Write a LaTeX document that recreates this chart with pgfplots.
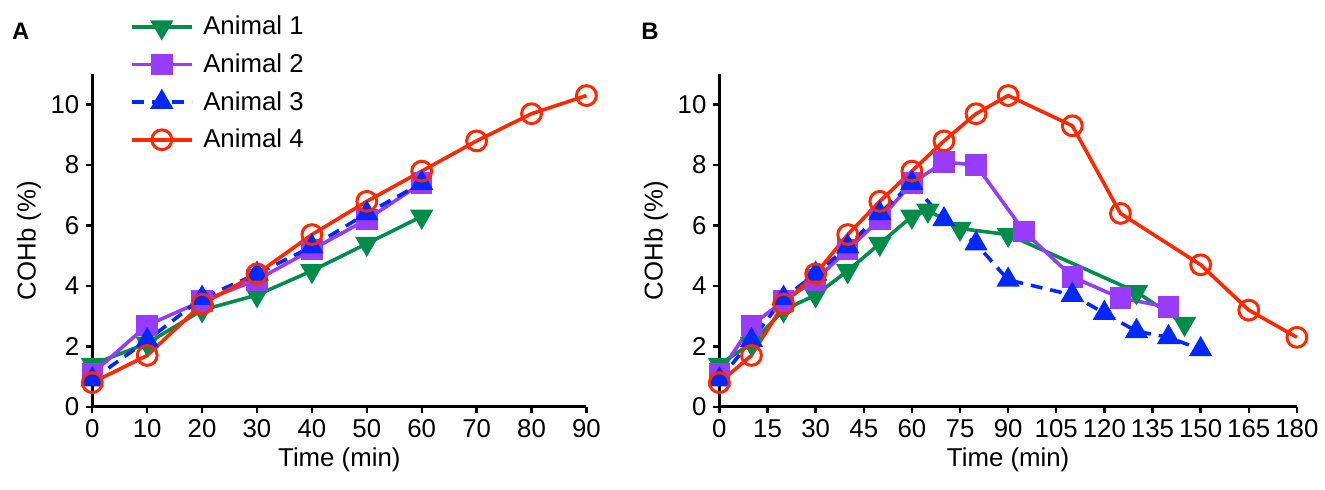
\documentclass[border=0pt]{standalone}
\usepackage{pgfplots}
\pgfplotsset{compat=1.18}
\usepackage{fontspec}
\setmainfont{Liberation Sans}
\definecolor{cg}{RGB}{0,140,75}
\definecolor{cp}{RGB}{150,60,250}
\definecolor{cb}{RGB}{0,40,255}
\definecolor{cr}{RGB}{255,40,0}
\pgfplotsset{
  base/.style={scale only axis, height=167.5pt, axis lines*=left, ymin=0, ymax=11,
    ytick={0,2,...,10}, tick align=outside, major tick length=3pt,
    every tick/.style={black, line width=1.2pt}, axis line style={line width=1.4pt},
    tick label style={font=\fontsize{13}{15}\selectfont},
    label style={font=\fontsize{13}{15}\selectfont},
    /pgf/number format/assume math mode=true, clip=false,
    ylabel={COHb (\%)}, xlabel={Time (min)}, xlabel style={yshift=2pt}, ylabel style={yshift=-2pt}},
  a1/.style={cg, line width=1.8pt, mark=triangle*, mark options={rotate=180, solid}, mark size=5pt},
  a2/.style={cp, line width=1.8pt, mark=square*, mark options={solid}, mark size=4.5pt},
  a3/.style={cb, line width=1.8pt, dash pattern=on 6pt off 4pt, mark=triangle*, mark options={solid}, mark size=5pt},
  a4/.style={cr, line width=1.8pt, mark=o, mark options={solid, fill=white, line width=1.5pt}, mark size=5pt},
}
\begin{document}
\begin{tikzpicture}
\begin{axis}[base, name=A, width=249pt, xmin=0, xmax=90, xtick={0,10,...,90},
  legend style={draw=none, fill=none, at={(0.064,1.2)}, anchor=north west, row sep=4pt, font=\fontsize{13}{15}\selectfont,
    nodes={inner xsep=5pt}},
  legend cell align=left,
  legend image code/.code={\draw[#1] (0pt,0pt) -- (30pt,0pt); \draw[#1, solid] plot coordinates {(15pt,0pt)};}]
\addplot[a1] coordinates {(0,1.4)(10,2.1)(20,3.2)(30,3.7)(40,4.5)(50,5.4)(60,6.3)};
\addlegendentry{Animal 1}
\addplot[a2] coordinates {(0,1.1)(10,2.7)(20,3.5)(30,4.2)(40,5.2)(50,6.2)(60,7.4)};
\addlegendentry{Animal 2}
\addplot[a3] coordinates {(0,0.9)(10,2.2)(20,3.6)(30,4.4)(40,5.3)(50,6.4)(60,7.4)};
\addlegendentry{Animal 3}
\addplot[a4] coordinates {(0,0.8)(10,1.7)(20,3.4)(30,4.4)(40,5.7)(50,6.8)(60,7.8)(70,8.8)(80,9.7)(90,10.3)};
\addlegendentry{Animal 4}
\end{axis}
\begin{axis}[base, at={(316pt,0pt)}, width=291pt, xmin=0, xmax=180, xtick={0,15,...,180}]
\addplot[a1] coordinates {(0,1.4)(10,2.1)(20,3.2)(30,3.7)(40,4.5)(50,5.4)(60,6.3)(65,6.5)(75,5.9)(90,5.7)(130,3.8)(145,2.75)};
\addplot[a2] coordinates {(0,1.1)(10,2.7)(20,3.5)(30,4.2)(40,5.2)(50,6.2)(60,7.4)(70,8.1)(80,8.0)(95,5.8)(110,4.3)(125,3.6)(140,3.3)};
\addplot[a3] coordinates {(0,0.9)(10,2.2)(20,3.6)(30,4.4)(40,5.3)(50,6.4)(60,7.4)(70,6.2)(80,5.4)(90,4.2)(110,3.7)(120,3.1)(130,2.5)(140,2.3)(150,1.9)};
\addplot[a4] coordinates {(0,0.8)(10,1.7)(20,3.4)(30,4.4)(40,5.7)(50,6.8)(60,7.8)(70,8.8)(80,9.7)(90,10.3)(110,9.3)(125,6.4)(150,4.7)(165,3.2)(180,2.3)};
\end{axis}
\node[font=\bfseries\fontsize{12}{14}\selectfont] at (-36pt,189pt) {A};
\node[font=\bfseries\fontsize{12}{14}\selectfont] at (281pt,189pt) {B};
\path[use as bounding box] (-46.5pt,-41.5pt) rectangle (616pt,205pt);
\end{tikzpicture}
\end{document}
